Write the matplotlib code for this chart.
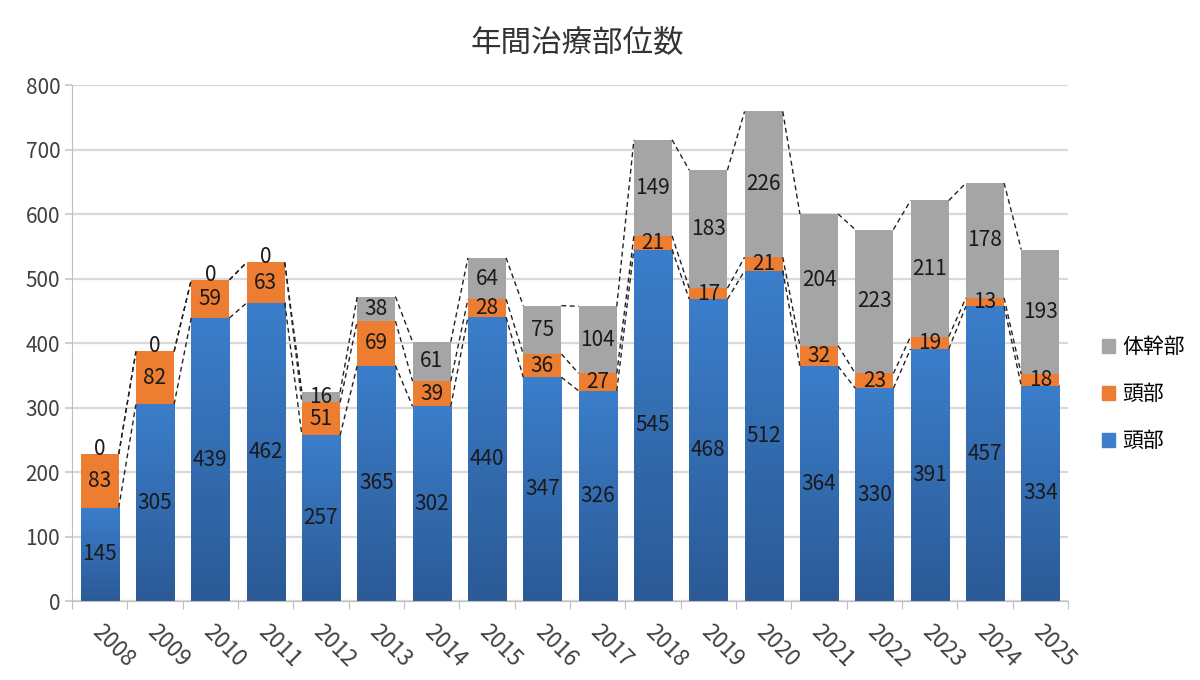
import numpy as np
import matplotlib
matplotlib.use('Agg')
from matplotlib import pyplot as plt
from matplotlib.patches import Patch
from matplotlib.colors import LinearSegmentedColormap

plt.rcParams['font.family'] = ['Noto Sans CJK JP', 'DejaVu Sans']

years = [str(y) for y in range(2008, 2026)]
head = [145, 305, 439, 462, 257, 365, 302, 440, 347, 326, 545, 468, 512, 364, 330, 391, 457, 334]
neck = [83, 82, 59, 63, 51, 69, 39, 28, 36, 27, 21, 17, 21, 32, 23, 19, 13, 18]
trunk = [0, 0, 0, 0, 16, 38, 61, 64, 75, 104, 149, 183, 226, 204, 223, 211, 178, 193]
series_names = ['頭部', '頭部', '体幹部']
title = '年間治療部位数'

blue_top = '#3b7ecb'
blue_bot = '#2b5a96'
orange = '#ed7d31'
gray = '#a5a5a5'
txt = '#1a1a1a'
axtxt = '#404040'

fig = plt.figure(figsize=(12, 6.8), dpi=100)
ax = fig.add_axes([0.06, 0.116, 0.83, 0.759])

x = np.arange(len(years))
w = 0.69
head = np.array(head)
neck = np.array(neck)
trunk = np.array(trunk)
lvl1 = head
lvl2 = head + neck
lvl3 = head + neck + trunk

# blue bars with vertical gradient
cmap = LinearSegmentedColormap.from_list('b', [blue_bot, blue_top])
grad = np.linspace(0, 1, 256).reshape(-1, 1)
for i in range(len(x)):
    ax.imshow(grad, extent=[x[i] - w / 2, x[i] + w / 2, 0, head[i]],
              origin='lower', cmap=cmap, aspect='auto', zorder=2)
ax.bar(x, neck, w, bottom=lvl1, color=orange, zorder=2)
ax.bar(x, trunk, w, bottom=lvl2, color=gray, zorder=2)

# series lines
for lv in (lvl1, lvl2, lvl3):
    for i in range(len(x) - 1):
        ax.plot([x[i] + w / 2, x[i + 1] - w / 2], [lv[i], lv[i + 1]],
                color='#222222', lw=1.0, ls=(0, (3.5, 2.5)), zorder=3)

# data labels
fs = 15
for i in range(len(x)):
    ax.text(x[i], head[i] / 2, str(head[i]), ha='center', va='center',
            fontsize=fs, color=txt, zorder=4)
    ax.text(x[i], lvl1[i] + neck[i] / 2, str(neck[i]), ha='center', va='center',
            fontsize=fs, color=txt, zorder=4)
    ax.text(x[i], lvl2[i] + trunk[i] / 2 + (8 if trunk[i] == 0 else 0), str(trunk[i]),
            ha='center', va='center', fontsize=fs, color=txt, zorder=4)

ax.set_xlim(-0.5, len(x) - 0.5)
ax.set_ylim(0, 800)
ax.set_yticks(range(0, 801, 100))
ax.tick_params(axis='y', labelsize=fs, labelcolor=axtxt, length=5, color='#d0d0d0', width=1.5)
ax.yaxis.grid(True, color='#d9d9d9', lw=1.6, zorder=0)
ax.set_axisbelow(True)

ax.set_xticks(np.arange(-0.5, len(x), 1))
ax.set_xticklabels([])
ax.tick_params(axis='x', length=6, color='#bfbfbf')
for i, y in enumerate(years):
    ax.annotate(y, xy=(x[i], 0), xycoords=('data', 'axes fraction'),
                xytext=(3, -14), textcoords='offset points',
                rotation=-45, rotation_mode='anchor', ha='left', va='top',
                fontsize=16, color=axtxt)

for s in ['top', 'right']:
    ax.spines[s].set_visible(False)
ax.spines['left'].set_color('#bfbfbf')
ax.spines['bottom'].set_color('#bfbfbf')

fig.text(0.481, 0.937, title, ha='center', va='center', fontsize=22, color='#333333')

handles = [Patch(color=gray), Patch(color=orange), Patch(color=blue_top)]
fig.legend(handles, [series_names[2], series_names[1], series_names[0]],
           loc='center left', bbox_to_anchor=(0.903, 0.42), frameon=False,
           fontsize=15, handlelength=0.6, handleheight=0.6, labelspacing=1.2,
           handletextpad=0.35)

fig.savefig('out.png', dpi=100)
